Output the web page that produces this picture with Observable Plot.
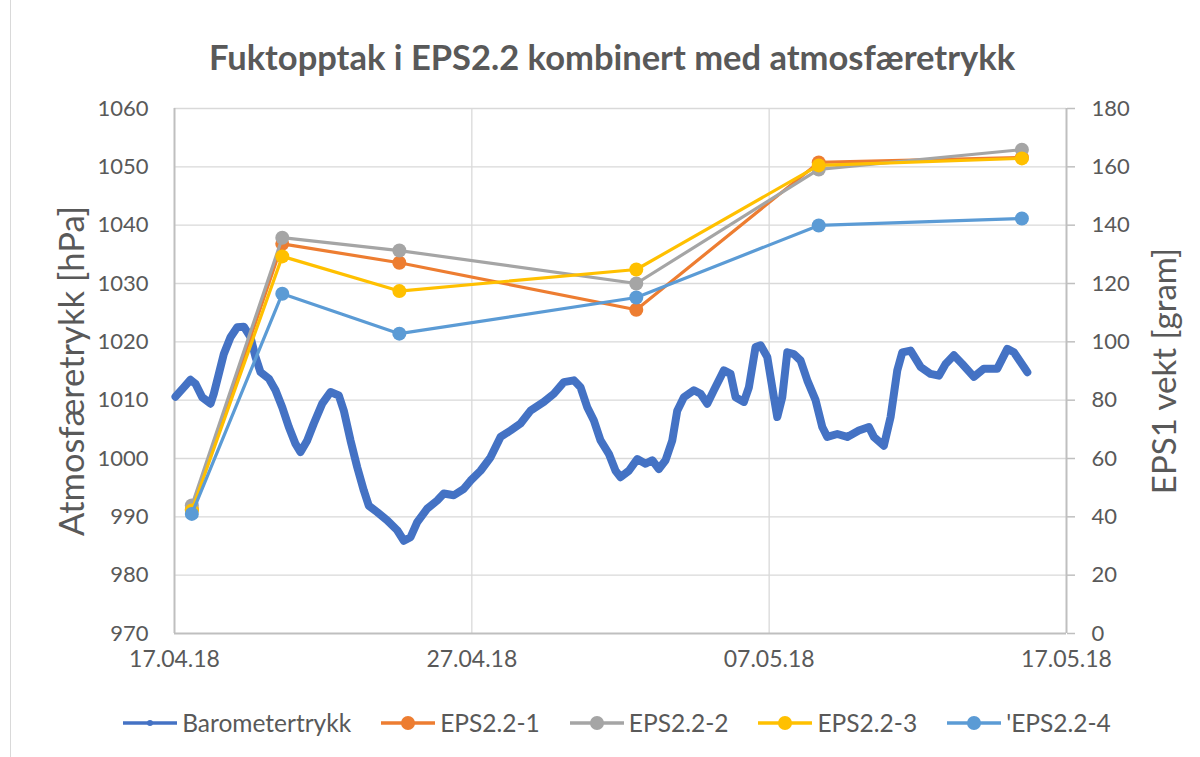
<!DOCTYPE html>
<html><head><meta charset="utf-8">
<script src="https://cdn.jsdelivr.net/npm/d3@7"></script>
<script src="https://cdn.jsdelivr.net/npm/@observablehq/plot@0.6"></script>
<style>
body{margin:0;background:#fff;font-family:Lato,"Open Sans",sans-serif;}
#wrap{position:relative;width:1200px;height:757px;overflow:hidden;background:#fff;}
#border{position:absolute;left:10px;top:0;width:1px;height:757px;background:#D9D9D9;}
#chart{position:absolute;left:0;top:0;}
#title{position:absolute;top:36px;left:12px;width:1200px;text-align:center;font-weight:bold;font-size:34.5px;color:#595959;line-height:42px;}
#legend{position:absolute;top:708px;left:17px;width:1200px;display:flex;justify-content:center;align-items:center;gap:30px;font-size:24.5px;color:#595959;line-height:30px;}
.item{display:flex;align-items:center;gap:5px;}
</style></head><body>
<div id="wrap">
<div id="border"></div>
<div id="chart"></div>
<div id="title"></div>
<div id="legend"></div>
</div>
<script>
// ---- Data ----
const baroTimes = ["2018-04-17T00:48","2018-04-17T07:30","2018-04-17T12:55","2018-04-17T16:57","2018-04-17T22:22",
"2018-04-18T05:04","2018-04-18T07:43","2018-04-18T11:45","2018-04-18T15:48","2018-04-18T21:12",
"2018-04-19T02:37","2018-04-19T07:57","2018-04-19T13:21","2018-04-19T17:24","2018-04-19T21:26",
"2018-04-20T04:08","2018-04-20T09:32","2018-04-20T14:57","2018-04-20T20:17","2018-04-21T01:41",
"2018-04-21T05:43","2018-04-21T11:08","2018-04-21T16:27","2018-04-21T23:14","2018-04-22T05:56",
"2018-04-22T12:38","2018-04-22T16:40","2018-04-22T22:05","2018-04-23T03:29","2018-04-23T08:49",
"2018-04-23T12:51","2018-04-23T19:37","2018-04-24T03:42","2018-04-24T11:47","2018-04-24T17:07",
"2018-04-24T22:31","2018-04-25T03:56","2018-04-25T12:00","2018-04-25T20:04","2018-04-26T01:23",
"2018-04-26T09:28","2018-04-26T17:32","2018-04-26T22:57","2018-04-27T07:02","2018-04-27T15:06",
"2018-04-27T23:10","2018-04-28T07:15","2018-04-28T15:19","2018-04-28T23:23","2018-04-29T10:07",
"2018-04-29T18:12","2018-04-30T02:17","2018-04-30T10:21","2018-04-30T15:45","2018-04-30T21:10",
"2018-05-01T02:30","2018-05-01T07:54","2018-05-01T14:36","2018-05-01T20:00","2018-05-02T00:03",
"2018-05-02T06:45","2018-05-02T13:31","2018-05-02T20:13","2018-05-03T01:38","2018-05-03T06:58",
"2018-05-03T12:22","2018-05-03T17:47","2018-05-03T21:49","2018-05-04T03:09","2018-05-04T11:13",
"2018-05-04T16:38","2018-05-04T22:02","2018-05-05T03:22","2018-05-05T11:26","2018-05-05T16:50",
"2018-05-05T20:53","2018-05-06T03:35","2018-05-06T07:37","2018-05-06T13:00","2018-05-06T17:04",
"2018-05-06T22:28","2018-05-07T02:30","2018-05-07T06:32","2018-05-07T10:34","2018-05-07T14:37",
"2018-05-07T19:57","2018-05-08T01:21","2018-05-08T06:46","2018-05-08T13:28","2018-05-08T18:52",
"2018-05-08T22:54","2018-05-09T06:59","2018-05-09T15:03","2018-05-10T00:24","2018-05-10T08:30",
"2018-05-10T12:32","2018-05-10T20:36","2018-05-11T02:00","2018-05-11T07:25","2018-05-11T11:27",
"2018-05-11T18:09","2018-05-12T02:14","2018-05-12T10:18","2018-05-12T17:00","2018-05-12T22:24",
"2018-05-13T05:07","2018-05-13T11:53","2018-05-13T21:14","2018-05-14T05:19","2018-05-14T16:08",
"2018-05-15T00:13","2018-05-15T05:33","2018-05-15T13:36","2018-05-15T16:22"];
const baroValues = [1010.6,1012.2,1013.5,1012.8,1010.5,
1009.4,1011.1,1014.5,1017.9,1020.8,
1022.5,1022.6,1020.8,1017.4,1014.8,
1013.7,1011.7,1008.8,1005.4,1002.5,
1001.1,1003.1,1006.0,1009.4,1011.4,
1010.8,1008.2,1003.1,998.5,994.5,
991.9,990.8,989.4,987.7,985.9,
986.5,989.1,991.4,992.8,994.0,
993.7,994.8,996.2,997.9,1000.2,
1003.7,1004.8,1006.0,1008.2,1009.7,
1011.1,1013.1,1013.4,1012.2,1008.8,
1006.5,1003.1,1000.8,997.9,996.8,
997.9,999.9,999.1,999.7,998.2,
999.7,1003.1,1008.2,1010.5,1011.7,
1011.1,1009.4,1011.7,1015.1,1014.5,
1010.5,1009.7,1012.2,1019.1,1019.4,
1017.4,1012.2,1007.1,1010.5,1018.2,
1017.9,1016.8,1013.4,1010.0,1005.4,
1003.7,1004.2,1003.7,1004.8,1005.4,
1003.7,1002.2,1007.1,1015.1,1018.2,
1018.5,1015.7,1014.5,1014.2,1016.2,
1017.7,1016.2,1014.0,1015.4,1015.4,
1018.8,1018.2,1015.7,1014.8];

const epsTimes = ["2018-04-17T14:00","2018-04-20T15:00","2018-04-24T13:30","2018-05-02T12:45","2018-05-08T16:00","2018-05-15T12:00"];
const eps1 = [42.5,133.6,127.1,111.0,161.5,163.2];
const eps2 = [43.9,135.7,131.3,120.0,159.1,165.9];
const eps3 = [42.2,129.3,117.4,124.8,160.5,162.9];
const eps4 = [41.0,116.5,102.8,115.2,139.9,142.3];

const seriesNames = ["Barometertrykk","EPS2.2-1","EPS2.2-2","EPS2.2-3","'EPS2.2-4"];
const seriesColors = ["#4472C4","#ED7D31","#A5A5A5","#FFC000","#5B9BD5"];

const leftTicks = [970,980,990,1000,1010,1020,1030,1040,1050,1060];
const rightTicks = [0,20,40,60,80,100,120,140,160,180];
const xTickLabels = ["2018-04-17","2018-04-27","2018-05-07","2018-05-17"];

const titleText = "Fuktopptak i EPS2.2 kombinert med atmosfæretrykk";
const leftLabel = "Atmosfæretrykk [hPa]";
const rightLabel = "EPS1 vekt [gram]";

// ---- Build ----
const parse = s => new Date(s + (s.length > 10 ? ":00Z" : "T00:00:00Z"));
const xTicks = xTickLabels.map(parse);
const baro = baroTimes.map((t,i) => ({t: parse(t), v: baroValues[i]}));
const epsSets = [eps1, eps2, eps3, eps4];
const eps = [];
epsSets.forEach((arr, k) => arr.forEach((g, i) => eps.push({series: seriesNames[k+1], t: parse(epsTimes[i]), g})));
// gram axis (0..180) mapped onto hPa axis (970..1060)
const g2h = g => 970 + g / 2;

const fmt = d3.utcFormat("%d.%m.%y");
const tickFont = 22;

const marks = [
  Plot.ruleY(leftTicks.slice(1), {y: d => d, stroke: "#D9D9D9", strokeWidth: 1.3}),
  Plot.ruleX(xTicks.slice(1, 3), {x: d => d, stroke: "#D9D9D9", strokeWidth: 1.3}),
  Plot.ruleX([xTicks[0], xTicks[3]], {x: d => d, stroke: "#BFBFBF", strokeWidth: 2}),
  Plot.ruleY([970], {stroke: "#BFBFBF", strokeWidth: 2}),
  Plot.axisY(leftTicks, {anchor: "left", tickSize: 0, tickPadding: 26, tickFormat: d => String(d), label: null, fill: "#595959", fontSize: tickFont}),
  Plot.axisY(rightTicks.map(g2h), {anchor: "right", tickSize: 8, tickPadding: 17, stroke: "#BFBFBF", strokeWidth: 1.5,
    tickFormat: v => String(Math.round((v - 970) * 2)), label: null, fill: "#595959", fontSize: tickFont}),
  Plot.axisX(xTicks, {tickSize: 0, tickPadding: 17, tickFormat: fmt, label: null, fill: "#595959", fontSize: 23}),
  Plot.line(baro, {x: "t", y: "v", stroke: seriesColors[0], strokeWidth: 8, strokeLinejoin: "round", strokeLinecap: "round"})
];
seriesNames.slice(1).forEach((name, k) => {
  const rows = eps.filter(d => d.series === name);
  marks.push(Plot.line(rows, {x: "t", y: d => g2h(d.g), stroke: seriesColors[k+1], strokeWidth: 3.2}));
  marks.push(Plot.dot(rows, {x: "t", y: d => g2h(d.g), r: 7, fill: seriesColors[k+1], stroke: "none"}));
});
marks.push(Plot.text([leftLabel], {text: d => d, frameAnchor: "left", textAnchor: "middle", lineAnchor: "middle", dx: -102, rotate: -90, fontSize: 34.5, fill: "#595959"}));
marks.push(Plot.text([rightLabel], {text: d => d, frameAnchor: "right", textAnchor: "middle", lineAnchor: "middle", dx: 99, rotate: -90, fontSize: 33, fill: "#595959"}));

const chart = Plot.plot({
  width: 1200, height: 757,
  marginLeft: 174, marginRight: 134, marginTop: 108, marginBottom: 124,
  style: {fontFamily: "Lato, 'Open Sans', sans-serif", fontSize: "22px", color: "#595959", background: "transparent"},
  x: {type: "utc", domain: [xTicks[0], xTicks[3]]},
  y: {domain: [970, 1060]},
  marks
});
document.getElementById("chart").appendChild(chart);
document.getElementById("title").textContent = titleText;

// legend
const legend = document.getElementById("legend");
seriesNames.forEach((name, i) => {
  const item = document.createElement("div");
  item.className = "item";
  const r = i === 0 ? 3 : 7;
  item.innerHTML = `<svg width="54" height="16"><line x1="0" x2="54" y1="8" y2="8" stroke="${seriesColors[i]}" stroke-width="3.5"/><circle cx="27" cy="8" r="${r}" fill="${seriesColors[i]}"/></svg><span>${name}</span>`;
  legend.appendChild(item);
});
</script>
</body></html>
